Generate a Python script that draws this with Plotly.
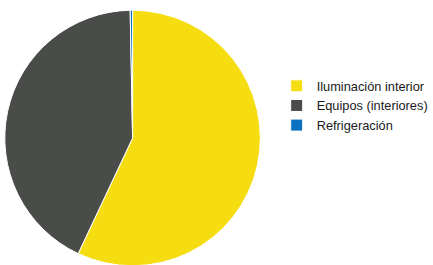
import plotly.graph_objects as go

labels = ["Iluminación interior", "Equipos (interiores)", "Refrigeración"]
values = [57.0, 42.7, 0.3]
colors = ["#F6DD12", "#4A4C49", "#0A70C0"]

W, H = 433, 274

fig = go.Figure(go.Pie(
    labels=labels,
    values=values,
    sort=False,
    direction="clockwise",
    rotation=0,
    textinfo="none",
    hoverinfo="label+percent",
    marker=dict(colors=colors, line=dict(color="white", width=1)),
    domain=dict(x=[5/W, 271/W], y=[3/H, 269/H]),
))

fig.update_layout(
    width=W, height=H,
    margin=dict(l=0, r=0, t=0, b=0),
    paper_bgcolor="white",
    plot_bgcolor="white",
    font=dict(family="Liberation Sans, Arial, sans-serif", size=12.8, color="#1a1a1a"),
    legend=dict(x=288/W, y=1 - 71/H, xanchor="left", yanchor="top",
                font=dict(size=12.8), tracegroupgap=0),
    showlegend=True,
)

fig.write_html("out.html", config={"displayModeBar": False},
               post_script="document.body.style.margin='0';document.body.style.overflow='hidden';")
